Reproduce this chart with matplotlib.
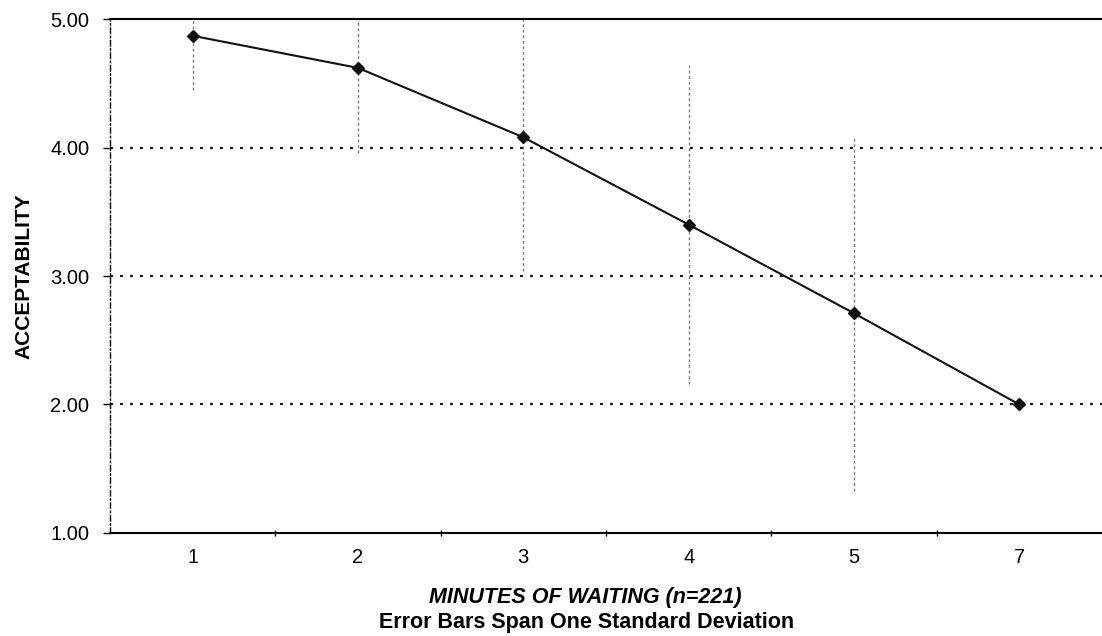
"""Acceptability of waiting time, mean rating with +/- 1 SD bars."""

import matplotlib.pyplot as plt
import numpy as np

MINUTES = ["1", "2", "3", "4", "5", "7"]
MEAN_RATING = [4.87, 4.62, 4.08, 3.40, 2.71, 2.00]
STD_DEV = [0.42, 0.66, 1.04, 1.24, 1.38, 0.0]
Y_TICKS = [1.0, 2.0, 3.0, 4.0, 5.0]

plt.rcParams["font.family"] = ["Liberation Sans", "DejaVu Sans"]

fig = plt.figure(figsize=(11.02, 6.36), dpi=100)
ax = fig.add_axes([0.0998, 0.162, 0.9002, 0.808])

x = np.arange(len(MINUTES))
mean = np.array(MEAN_RATING)
sd = np.array(STD_DEV)

# error bars: faint dotted verticals spanning one SD either side
for xi, m, s in zip(x, mean, sd):
    if s > 0:
        ax.plot([xi, xi], [m - s, m + s], color="#7a7a7a", lw=1.0,
                linestyle=(0, (2, 2)), zorder=1, clip_on=True)

# horizontal dotted gridlines
for yv in Y_TICKS[1:-1]:
    ax.axhline(yv, color="#1a1a1a", lw=1.6, linestyle=(0, (1.3, 3.2)), zorder=1)

ax.plot(x, mean, color="#111111", lw=1.5, marker="D", markersize=6.5,
        markerfacecolor="#111111", zorder=3)

ax.set_xlim(-0.5, len(MINUTES) - 0.5)
ax.set_ylim(1, 5)

ax.set_yticks(Y_TICKS)
ax.set_yticklabels([f"{v:.2f}" for v in Y_TICKS], fontsize=14.5)
ax.set_xticks(x)
ax.set_xticklabels(MINUTES, fontsize=14.5)
ax.tick_params(axis="x", length=0, pad=11)
ax.tick_params(axis="y", length=5, width=1.0, pad=10, direction="out")

# small marks on the category boundaries of the base line
ax.set_xticks(np.arange(0.5, len(MINUTES) - 0.5), minor=True)
ax.tick_params(axis="x", which="minor", length=5, width=1.0, direction="inout")

ax.spines["right"].set_visible(False)
ax.spines["top"].set_linewidth(1.5)
ax.spines["bottom"].set_linewidth(1.5)
ax.spines["left"].set_linewidth(1.0)
ax.spines["left"].set_linestyle((0, (4, 2, 1, 2)))

ax.set_ylabel("ACCEPTABILITY", fontsize=15, fontweight="bold", labelpad=12)

fig.text(0.531, 0.061, "MINUTES OF WAITING (n=221)", fontsize=15.5,
         fontweight="bold", style="italic", ha="center", va="center")
fig.text(0.532, 0.021, "Error Bars Span One Standard Deviation",
         fontsize=15.5, fontweight="bold", ha="center", va="center")

fig.savefig("out.png", dpi=100)
